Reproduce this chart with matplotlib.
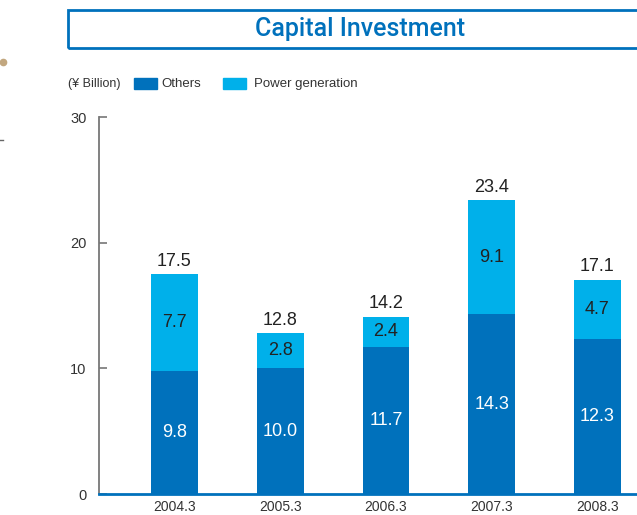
import matplotlib.pyplot as plt
from matplotlib.patches import Rectangle

# values in ¥ Billion
years = ["2004.3", "2005.3", "2006.3", "2007.3", "2008.3"]
others = [9.8, 10.0, 11.7, 14.3, 12.3]
power = [7.7, 2.8, 2.4, 9.1, 4.7]
totals = [17.5, 12.8, 14.2, 23.4, 17.1]

dark_blue = "#0071bc"
light_blue = "#00b0ea"
font = "Liberation Sans"

W, H = 637, 515
fig = plt.figure(figsize=(W / 100, H / 100), dpi=100)

ax = fig.add_axes([99 / W, (H - 494) / H, 1 - 99 / W, (494 - 117) / H])
x = list(range(len(years)))
bw = 0.444
ax.bar(x, others, width=bw, color=dark_blue, zorder=2)
ax.bar(x, power, width=bw, bottom=others, color=light_blue, zorder=2)

for i in x:
    ax.text(i, others[i] / 2, f"{others[i]:.1f}", ha="center", va="center",
            color="white", fontsize=13, family=font, zorder=3)
    ax.text(i, others[i] + power[i] / 2, f"{power[i]:.1f}", ha="center", va="center",
            color="#222222", fontsize=13, family=font, zorder=3)
    ax.text(i, totals[i] + 0.3, f"{totals[i]:.1f}", ha="center", va="bottom",
            color="#222222", fontsize=13, family=font, zorder=3)

ax.set_xlim(-0.714, 4.374)
ax.set_ylim(0, 30)
ax.set_yticks([0, 10, 20, 30])
ax.set_xticks(x)
ax.set_xticklabels(years)
for s in ["top", "right"]:
    ax.spines[s].set_visible(False)
ax.spines["left"].set_color("#777777")
ax.spines["left"].set_linewidth(1.3)
ax.spines["bottom"].set_color(dark_blue)
ax.spines["bottom"].set_linewidth(2)
ax.spines["bottom"].set_zorder(4)
ax.tick_params(axis="y", direction="in", length=6, width=1.2, color="#777777",
               labelsize=10.5, labelcolor="#333333", pad=9)
ax.tick_params(axis="x", length=0, labelsize=10, labelcolor="#333333", pad=4)
for lbl in ax.get_xticklabels() + ax.get_yticklabels():
    lbl.set_family(font)

# title box
fig.patches.append(Rectangle((68 / W, (H - 48) / H), 1, 38 / H, transform=fig.transFigure,
                             fill=False, edgecolor=dark_blue, linewidth=2))
fig.text(360 / W, (H - 29) / H, "Capital Investment", ha="center", va="center",
         color=dark_blue, fontsize=18, family="Roboto", weight="medium")

# legend row
fig.text(68 / W, (H - 84) / H, "(¥ Billion)", ha="left", va="center",
         color="#333333", fontsize=9, family=font)
fig.patches.append(Rectangle((134 / W, (H - 89) / H), 23 / W, 11 / H,
                             transform=fig.transFigure, color=dark_blue))
fig.text(161 / W, (H - 84) / H, "Others", ha="left", va="center",
         color="#333333", fontsize=9.5, family=font)
fig.patches.append(Rectangle((223 / W, (H - 89) / H), 23 / W, 11 / H,
                             transform=fig.transFigure, color=light_blue))
fig.text(254 / W, (H - 84) / H, "Power generation", ha="left", va="center",
         color="#333333", fontsize=9.5, family=font)

# small marks at left edge
fig.add_artist(plt.Line2D([3 / W], [(H - 62) / H], marker="o", markersize=4.5,
                          color="#c2a77f", linestyle="none"))
fig.add_artist(plt.Line2D([0, 3 / W], [(H - 140) / H] * 2, color="#666666", lw=1))

fig.savefig("out.png", dpi=100)
